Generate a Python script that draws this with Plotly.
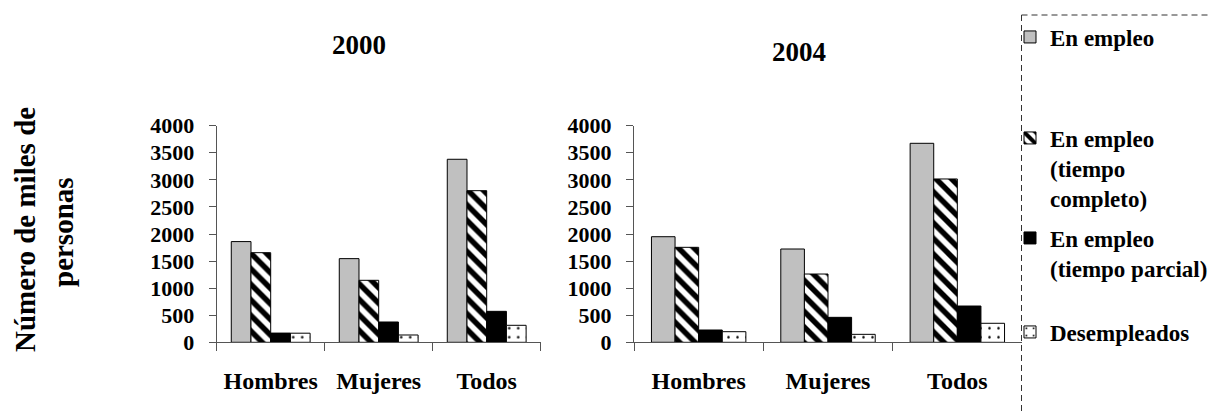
import plotly.graph_objects as go

W, H = 1218, 411
OFF = 8  # default page body margin of the written html

categories = ["Hombres", "Mujeres", "Todos"]
series_names = [
    "En empleo",
    "En empleo<br>(tiempo<br>completo)",
    "En empleo<br>(tiempo parcial)",
    "Desempleados",
]
values_2000 = {
    "En empleo": [1860, 1545, 3380],
    "tiempo completo": [1655, 1145, 2800],
    "tiempo parcial": [170, 375, 572],
    "Desempleados": [168, 135, 314],
}
values_2004 = {
    "En empleo": [1950, 1723, 3675],
    "tiempo completo": [1754, 1261, 3016],
    "tiempo parcial": [227, 461, 670],
    "Desempleados": [196, 147, 351],
}
years = ["2000", "2004"]
y_ticks = [0, 500, 1000, 1500, 2000, 2500, 3000, 3500, 4000]

FONT = "Liberation Serif"

styles = [
    dict(color="#C0C0C0", pattern=None),
    dict(color="white", pattern=dict(shape="\\", fgcolor="black", bgcolor="white", size=11, solidity=0.5, fillmode="replace")),
    dict(color="black", pattern=None),
    dict(color="white", pattern=dict(shape=".", fgcolor="black", bgcolor="white", size=9, solidity=0.06, fillmode="replace")),
]

fig = go.Figure()

legend_ids = ["legend", "legend2", "legend3", "legend4"]
for yi, (data, xa, ya) in enumerate([(values_2000, "x", "y"), (values_2004, "x2", "y2")]):
    for si, key in enumerate(data):
        st = styles[si]
        marker = dict(color=st["color"], line=dict(color="black", width=1))
        if st["pattern"]:
            marker["pattern"] = st["pattern"]
        fig.add_trace(go.Bar(
            x=categories, y=data[key], name=series_names[si],
            marker=marker, xaxis=xa, yaxis=ya,
            showlegend=(yi == 0), legend=legend_ids[si],
        ))

def px_x(p):
    return (p - OFF) / W

def px_y(p):
    return 1 - (p - OFF) / H

y_dom = [px_y(342.3), px_y(125.7)]
axis_common = dict(showline=True, linecolor="#555", linewidth=1, ticks="outside",
                   tickcolor="#555", showgrid=False, zeroline=False, automargin=False)
xtickfont = dict(size=24, family=FONT, weight="bold", color="black")
ytickfont = dict(size=22, family=FONT, weight="bold", color="black")

fig.update_layout(
    template="none",
    width=W, height=H,
    margin=dict(l=0, r=0, t=0, b=0, pad=0),
    paper_bgcolor="white", plot_bgcolor="white",
    barmode="group", bargap=0.27, bargroupgap=0,
    font=dict(family=FONT, color="black"),
    xaxis=dict(domain=[px_x(216.7), px_x(540.7)], anchor="y", tickson="boundaries", ticklen=8,
               tickfont=xtickfont, ticklabelstandoff=17, **axis_common),
    yaxis=dict(domain=y_dom, anchor="x", range=[0, 4000], tickvals=y_ticks, ticklen=7,
               tickfont=ytickfont, ticklabelstandoff=10, **axis_common),
    xaxis2=dict(domain=[px_x(634), px_x(1022)], anchor="y2", tickson="boundaries", ticklen=8,
                tickfont=xtickfont, ticklabelstandoff=17, **axis_common),
    yaxis2=dict(domain=y_dom, anchor="x2", range=[0, 4000], tickvals=y_ticks, ticklen=7,
                tickfont=ytickfont, ticklabelstandoff=10, **axis_common),
)

legend_centers = [37, 168, 253, 332]
for lid, yc in zip(legend_ids, legend_centers):
    fig.update_layout({lid: dict(x=px_x(1010), xanchor="left", y=px_y(yc), yanchor="middle",
                                 bgcolor="rgba(0,0,0,0)", borderwidth=0, valign="top",
                                 font=dict(family=FONT, size=23, weight="bold", color="black"),
                                 tracegroupgap=0, itemclick=False)})

ann_common = dict(xref="paper", yref="paper", showarrow=False, xanchor="center", yanchor="middle")
fig.add_annotation(text=years[0], x=px_x(359), y=px_y(45),
                   font=dict(family=FONT, size=27, weight="bold"), **ann_common)
fig.add_annotation(text=years[1], x=px_x(799), y=px_y(52),
                   font=dict(family=FONT, size=27, weight="bold"), **ann_common)

fig.add_annotation(text="Número de miles de", x=px_x(25), y=px_y(230), textangle=-90,
                   font=dict(family=FONT, size=29, weight="bold"), **ann_common)
fig.add_annotation(text="personas", x=px_x(63), y=px_y(232), textangle=-90,
                   font=dict(family=FONT, size=29, weight="bold"), **ann_common)

fig.add_shape(type="line", xref="paper", yref="paper", x0=px_x(1021.5), x1=px_x(1021.5),
              y0=px_y(15), y1=px_y(420), line=dict(color="#333", width=1, dash="6px,4px"))
fig.add_shape(type="line", xref="paper", yref="paper", x0=px_x(1021.5), x1=px_x(1230),
              y0=px_y(15), y1=px_y(15), line=dict(color="#333", width=1, dash="6px,4px"))

fig.write_html("out.html")
